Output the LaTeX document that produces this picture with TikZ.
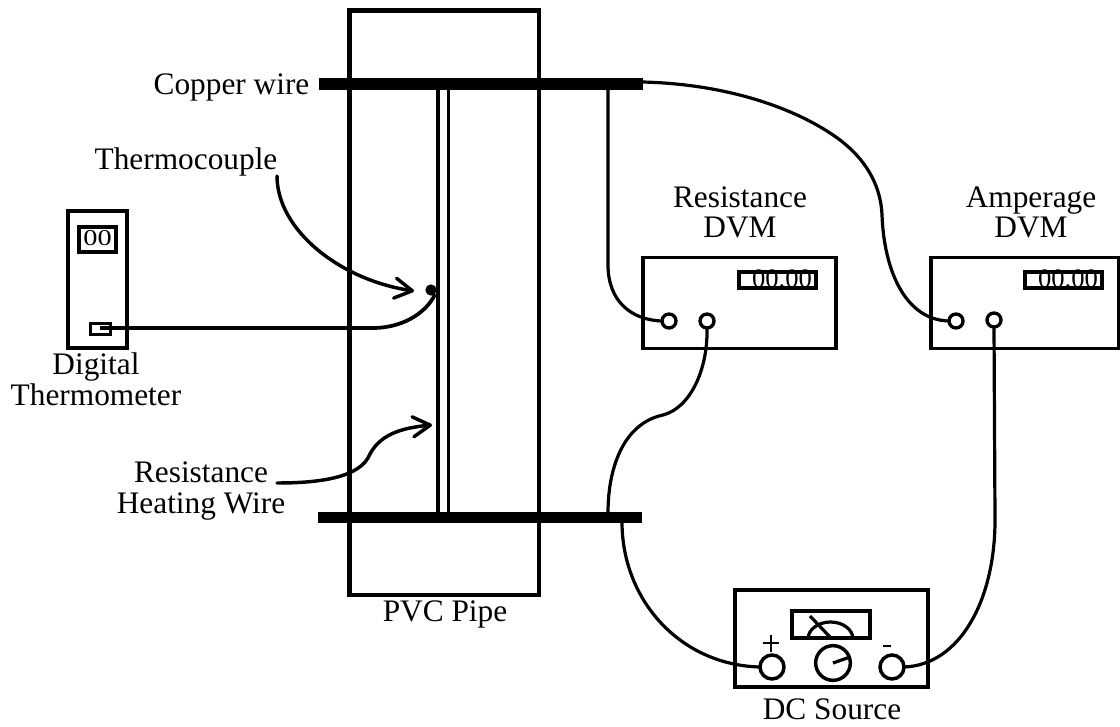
\documentclass[tikz,border=0pt]{standalone}
\usepackage{fontspec}
\setmainfont{Liberation Serif}
\usetikzlibrary{arrows.meta}
\tikzset{
  box/.style={draw=black,line width=2.4pt,fill=white,rectangle,inner sep=0pt,outer sep=0pt},
  bar/.style={fill=black,rectangle,inner sep=0pt,outer sep=0pt},
  wire/.style={draw=black,line width=2.4pt},
  lead/.style={draw=black,line width=2.6pt,line cap=round,-{Straight Barb[length=13pt,width=15pt,line width=2.6pt,round]}},
  term/.style={circle,draw=black,line width=2.5pt,fill=white,inner sep=0pt,outer sep=0pt,minimum size=10.5pt},
  bigterm/.style={circle,draw=black,line width=2.6pt,fill=white,inner sep=0pt,outer sep=0pt,minimum size=18pt},
  lab/.style={inner sep=0pt,outer sep=0pt,anchor=base,align=center,font=\fontsize{23.5}{23.5}\selectfont},
  dvmbox/.style={box,minimum width=144.75pt,minimum height=68.25pt},
  readout/.style={rectangle,inner sep=0pt,outer sep=0pt,font=\fontsize{20}{20}\selectfont},
  readframe/.style={rectangle,draw=black,line width=2.8pt,inner sep=0pt,outer sep=0pt,minimum width=58pt,minimum height=11.5pt},
  fine/.style={draw=black,line width=1.9pt},
}
\begin{document}
\begin{tikzpicture}[x=0.75pt,y=-0.75pt]
\useasboundingbox (0,0) rectangle (1120,727);
\fill[white] (0,0) rectangle (1120,727);
\begin{scope}
\clip (0,0) rectangle (1120,727);
% pipe
\node[rectangle,draw=black,line width=3.6pt,inner sep=0pt,minimum width=142.1pt,minimum height=438.4pt] (pipe) at (444.2,302.7) {};
% heating wire
\coordinate (hwAt) at (438,89);
\coordinate (hwAb) at (438,512);
\coordinate (hwBt) at (448.5,89);
\coordinate (hwBb) at (448.5,512);
\draw[wire] (hwAt) -- (hwAb);
\draw[wire] (hwBt) -- (hwBb);
% copper bars
\node[bar,minimum width=243pt,minimum height=9pt] (topbar) at (480.5,84) {};
\node[bar,minimum width=243pt,minimum height=8.5pt] (botbar) at (480,517.5) {};
% thermometer
\node[box,minimum width=44.25pt,minimum height=102.75pt] (therm) at (97.5,279.5) {};
\node[box,line width=2.8pt,minimum width=27.75pt,minimum height=18.75pt] (thermdisp) at (97.5,239.5) {};
\node[inner sep=0pt,xscale=1.25,font=\fontsize{17}{17}\selectfont] (thermread) at (97.5,238.5) {00};
\node[box,fill=none,minimum width=15.5pt,minimum height=8.5pt] (probe) at (100.5,329) {};
% thermocouple
\coordinate (wireA) at (100,328);
\node[circle,fill=black,inner sep=0pt,minimum size=8.5pt] (tc) at (431,290) {};
\draw[wire,line width=2.8pt] (wireA) -- (373,328) .. controls (400,328) and (425,315) .. (tc.south east);
% DVMs
\node[dvmbox] (rdvm) at (739.5,303) {};
\node[dvmbox,minimum width=141pt] (advm) at (1025,303) {};
\node[readout] (rread) at (782,279) {00.00};
\node[readframe] (rframe) at (777.5,280) {};
\node[readout] (aread) at (1068,279) {00.00};
\node[readframe] (aframe) at (1063.5,280) {};
\node[term] (r1) at (669,321) {};
\node[term] (r2) at (707,321) {};
\node[term] (a1) at (956,321) {};
\node[term] (a2) at (994,320) {};
% DC source
\node[box,minimum width=144.75pt,minimum height=72.75pt] (dc) at (831.5,638.5) {};
\node[box,minimum width=58.5pt,minimum height=20.25pt] (meter) at (831,624.5) {};
\coordinate (arcL) at (808,639);
\coordinate (needleA) at (810,616);
\coordinate (needleB) at (830,637);
\draw[wire] (arcL) arc[start angle=180,end angle=360,x radius=22.5,y radius=17];
\draw[wire] (needleA) -- (needleB);
\node[bigterm] (dcp) at (772,667) {};
\node[bigterm] (dcm) at (892,667) {};
\node[bigterm,minimum size=26pt] (knob) at (833,663) {};
\coordinate (knobtip) at (850,657);
\draw[wire] (knob.center) -- (knobtip);
\coordinate (plusT) at (771,635);
\coordinate (plusB) at (771,652);
\coordinate (plusL) at (763,643);
\coordinate (plusR) at (779,643);
\draw[fine] (plusT) -- (plusB);
\draw[fine] (plusL) -- (plusR);
\coordinate (minusL) at (883,646);
\coordinate (minusR) at (891,646);
\draw[fine] (minusL) -- (minusR);
% wires
\coordinate (w1) at (608,89);
\draw[wire] (w1) -- (608,265) .. controls (608,300) and (630,320) .. (r1.west);
\coordinate (w0) at (642,82);
\draw[wire] (w0) .. controls (730,84) and (800,110) .. (840,140) .. controls (870,163) and (881,190) .. (882,215) .. controls (884,270) and (905,320) .. (a1.west);
\coordinate (w2) at (608,513);
\draw[wire] (r2.south) .. controls (708,370) and (690,408) .. (663,415) .. controls (625,423) and (608,465) .. (w2);
\coordinate (w3) at (622,522);
\draw[wire] (w3) .. controls (622,600) and (680,665) .. (dcp.west);
\draw[wire] (a2.south) -- (995,520) .. controls (995,600) and (960,665) .. (dcm.east);
% leads
\coordinate (tlead) at (277,176);
\coordinate (ttip) at (414,291);
\draw[lead] (tlead) .. controls (277,230) and (340,280) .. (ttip);
\coordinate (hlead) at (277,483);
\coordinate (htip) at (432,425);
\draw[lead] (hlead) .. controls (310,483) and (355,480) .. (368,458) .. controls (378,435) and (400,428) .. (htip);
\end{scope}
% labels
\node[lab] (lcopper) at (231.5,95) {Copper wire};
\node[lab] (ltc) at (186,170) {Thermocouple};
\node[lab] (ldig) at (96,405) {Digital\\[-0.5pt]Thermometer};
\node[lab] (lres) at (201,513) {Resistance\\[-0.5pt]Heating Wire};
\node[lab] (lrd) at (740,238) {Resistance\\[-0.5pt]DVM};
\node[lab] (lad) at (1031,238) {Amperage\\[-0.5pt]DVM};
\node[lab] (lpvc) at (445,621) {PVC Pipe};
\node[lab] (ldc) at (832,719) {DC Source};
\end{tikzpicture}
\end{document}
